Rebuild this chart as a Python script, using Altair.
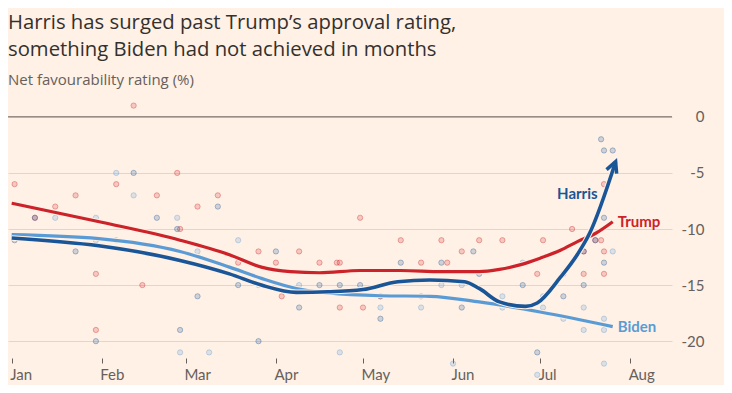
import altair as alt
import pandas as pd

BG = "#fff1e5"
TEXT = "#33302e"
MUTED = "#66605c"
GRID = "#e3d5ca"
FONT = "Lato"
TITLE_FONT = "Open Sans"

series_names = ["Trump", "Harris", "Biden"]
series_colors = ["#cc2229", "#1a5598", "#5b9bd5"]

# ---- individual polls (net favourability, %) ----
trump_poll_dates = ["2024-01-02", "2024-01-09", "2024-01-16", "2024-01-23", "2024-01-30", "2024-01-30",
                    "2024-02-06", "2024-02-12", "2024-02-15", "2024-02-20", "2024-02-27", "2024-02-28",
                    "2024-03-05", "2024-03-12", "2024-03-19", "2024-03-26", "2024-04-01", "2024-04-03",
                    "2024-04-09", "2024-04-16", "2024-04-22", "2024-04-23", "2024-04-23", "2024-04-30",
                    "2024-05-01", "2024-05-07", "2024-05-14", "2024-05-21", "2024-05-28", "2024-05-30",
                    "2024-06-04", "2024-06-10", "2024-06-18", "2024-06-30", "2024-07-02", "2024-07-09",
                    "2024-07-12", "2024-07-16", "2024-07-16", "2024-07-20", "2024-07-22", "2024-07-23",
                    "2024-07-23", "2024-07-23"]
trump_poll_values = [-6, -9, -8, -7, -14, -19,
                     -6, 1, -15, -7, -5, -10,
                     -8, -7, -13, -12, -13, -16,
                     -12, -13, -13, -13, -17, -9,
                     -17, -16, -11, -13, -11, -13,
                     -12, -11, -11, -14, -11, -14,
                     -10, -12, -14, -11, -11, -12,
                     -14, -6]

harris_poll_dates = ["2024-01-02", "2024-01-09", "2024-01-23", "2024-01-30", "2024-02-12", "2024-02-20",
                     "2024-02-27", "2024-02-28", "2024-03-05", "2024-03-12", "2024-03-19", "2024-03-26",
                     "2024-04-01", "2024-04-09", "2024-04-16", "2024-04-23", "2024-04-30", "2024-05-07",
                     "2024-05-07", "2024-05-14", "2024-05-21", "2024-05-28", "2024-06-04", "2024-06-08",
                     "2024-06-10", "2024-06-25", "2024-06-30", "2024-07-09", "2024-07-16", "2024-07-16",
                     "2024-07-20", "2024-07-22", "2024-07-23", "2024-07-23", "2024-07-23", "2024-07-26"]
harris_poll_values = [-11, -9, -12, -20, -5, -9,
                      -10, -19, -16, -8, -15, -20,
                      -12, -17, -15, -15, -15, -18,
                      -16, -13, -16, -13, -17, -12,
                      -14, -15, -21, -16, -12, -15,
                      -11, -2, -3, -9, -13, -3]

biden_poll_dates = ["2024-01-16", "2024-01-30", "2024-01-30", "2024-02-06", "2024-02-06", "2024-02-12",
                    "2024-02-27", "2024-02-28", "2024-03-05", "2024-03-09", "2024-03-19", "2024-03-26",
                    "2024-04-09", "2024-04-23", "2024-05-07", "2024-05-21", "2024-05-28", "2024-06-01",
                    "2024-06-04", "2024-06-18", "2024-06-18", "2024-06-25", "2024-06-30", "2024-07-02",
                    "2024-07-02", "2024-07-09", "2024-07-16", "2024-07-16", "2024-07-23", "2024-07-23",
                    "2024-07-23", "2024-07-26"]
biden_poll_values = [-9, -9, -11, -5, -11, -7,
                     -9, -21, -12, -21, -11, -15,
                     -15, -21, -17, -17, -15, -22,
                     -15, -16, -17, -13, -23, -16,
                     -17, -18, -17, -19, -18, -19,
                     -22, -12]

# ---- smoothed trend lines ----
trump_line_dates = ["2024-01-01", "2024-02-01", "2024-02-28", "2024-03-16", "2024-03-27", "2024-04-06",
                    "2024-04-16", "2024-04-30", "2024-05-14", "2024-05-28", "2024-06-10", "2024-06-17",
                    "2024-06-24", "2024-07-01", "2024-07-08", "2024-07-14", "2024-07-20", "2024-07-26"]
trump_line_values = [-7.7, -9.4, -11.0, -12.3, -13.4, -13.8,
                     -13.9, -13.7, -13.7, -13.8, -13.8, -13.6,
                     -13.2, -12.6, -11.9, -11.1, -10.4, -9.35]

biden_line_dates = ["2024-01-01", "2024-01-31", "2024-02-28", "2024-03-16", "2024-03-27", "2024-04-08",
                    "2024-04-19", "2024-05-07", "2024-05-24", "2024-06-10", "2024-07-01", "2024-07-26"]
biden_line_values = [-10.5, -10.85, -12.0, -13.4, -14.4, -15.3,
                     -15.7, -15.95, -16.0, -16.5, -17.4, -18.7]

harris_line_dates = ["2024-01-01", "2024-01-31", "2024-02-28", "2024-03-16", "2024-03-27", "2024-04-08",
                     "2024-04-19", "2024-05-01", "2024-05-13", "2024-05-24", "2024-06-05", "2024-06-10",
                     "2024-06-17", "2024-06-26", "2024-06-30", "2024-07-08", "2024-07-14", "2024-07-18",
                     "2024-07-27"]
harris_line_values = [-10.8, -11.5, -12.8, -14.0, -15.0, -15.65,
                      -15.6, -15.4, -14.7, -14.55, -14.7, -15.3,
                      -16.5, -16.9, -16.6, -14.3, -12.2, -10.4,
                      -4.0]

y_ticks = [0, -5, -10, -15, -20]


def frame(dates, values, name):
    return pd.DataFrame({"date": pd.to_datetime(dates), "value": values, "series": name})


polls = pd.concat([
    frame(trump_poll_dates, trump_poll_values, "Trump"),
    frame(biden_poll_dates, biden_poll_values, "Biden"),
    frame(harris_poll_dates, harris_poll_values, "Harris"),
])
trump_line = frame(trump_line_dates, trump_line_values, "Trump")
biden_line = frame(biden_line_dates, biden_line_values, "Biden")
harris_line = frame(harris_line_dates, harris_line_values, "Harris")

color_scale = alt.Scale(domain=series_names, range=series_colors)

x_enc = alt.X(
    "date:T",
    scale=alt.Scale(domain=[alt.DateTime(year=2023, month=12, date=30, hours=17, minutes=30),
                            alt.DateTime(year=2024, month=8, date=15, hours=10)]),
    axis=alt.Axis(
        values=[alt.DateTime(year=2024, month=m, date=1) for m in range(1, 9)],
        format="%b", title=None, grid=False, domain=False,
        ticks=True, tickSize=5, tickColor=MUTED, tickWidth=1,
        labelAlign="left", labelOffset=-2, labelPadding=4,
        labelFontSize=15, labelColor=MUTED, labelFont=FONT,
    ),
)
y_enc = alt.Y(
    "value:Q",
    scale=alt.Scale(domain=[-21.5, 1.5], nice=False, zero=False),
    axis=alt.Axis(
        orient="right", values=y_ticks, title=None, grid=True, gridColor=GRID, gridWidth=1,
        domain=False, ticks=False, labelPadding=32, labelAlign="right", labelBaseline="middle",
        labelFontSize=15, labelColor=MUTED, labelFont=FONT, labelExpr="'' + datum.value",
    ),
)

dots = alt.Chart(polls).mark_circle(
    size=28, fillOpacity=0.2, strokeOpacity=0.35, strokeWidth=1
).encode(
    x=x_enc, y=y_enc,
    color=alt.Color("series:N", scale=color_scale, legend=None),
    stroke=alt.Stroke("series:N", scale=color_scale, legend=None),
)

zero_rule = alt.Chart(pd.DataFrame({"value": [0]})).mark_rule(
    color=MUTED, strokeWidth=1
).encode(y="value:Q")


def line_layers(df, color, width):
    halo = alt.Chart(df).mark_line(
        interpolate="monotone", strokeWidth=width + 2, color=BG
    ).encode(x="date:T", y="value:Q")
    line = alt.Chart(df).mark_line(
        interpolate="monotone", strokeWidth=width, color=color
    ).encode(x="date:T", y="value:Q")
    return [halo, line]


harris_end = harris_line.tail(1)
trump_end = trump_line.tail(1)
biden_end = biden_line.tail(1)

arrow = alt.Chart(harris_end).mark_point(
    shape="M -0.68 1.34 L 0 0 L 0.68 1.34", size=256, filled=False,
    strokeWidth=3.5, angle=22, color=series_colors[1], opacity=1, strokeJoin="miter",
).encode(x="date:T", y="value:Q")


def label(df, color, align, dx, dy):
    return alt.Chart(df).mark_text(
        align=align, baseline="middle", dx=dx, dy=dy, fontSize=15, fontWeight="bold",
        font=FONT, color=color,
    ).encode(x="date:T", y="value:Q", text="series:N")


layers = [dots, zero_rule]
layers += line_layers(biden_line, series_colors[2], 3.2)
layers += line_layers(trump_line, series_colors[0], 3.2)
layers += line_layers(harris_line, series_colors[1], 3.6)
layers += [
    arrow,
    label(trump_end, series_colors[0], "left", 5, 0),
    label(biden_end, series_colors[2], "left", 5, 0),
    label(harris_end, series_colors[1], "right", -18, 32),
]

chart = alt.layer(*layers).properties(
    width=664,
    height=258,
    background=BG,
    padding={"left": 0, "top": 92, "right": 52, "bottom": 27},
    autosize=alt.AutoSizeParams(type="none"),
    title=alt.TitleParams(
        text=["Harris has surged past Trump\u2019s approval rating,",
              "something Biden had not achieved in months"],
        subtitle="Net favourability rating (%)",
        anchor="start", frame="group", font=TITLE_FONT, fontSize=20.3, fontWeight="normal",
        color=TEXT, lineHeight=26.5, subtitleFont=TITLE_FONT, subtitleFontSize=15,
        subtitleColor=MUTED, subtitlePadding=13, offset=12,
    ),
).configure_view(stroke=None)

chart.save("out.html", embed_options={"renderer": "svg", "actions": False})
